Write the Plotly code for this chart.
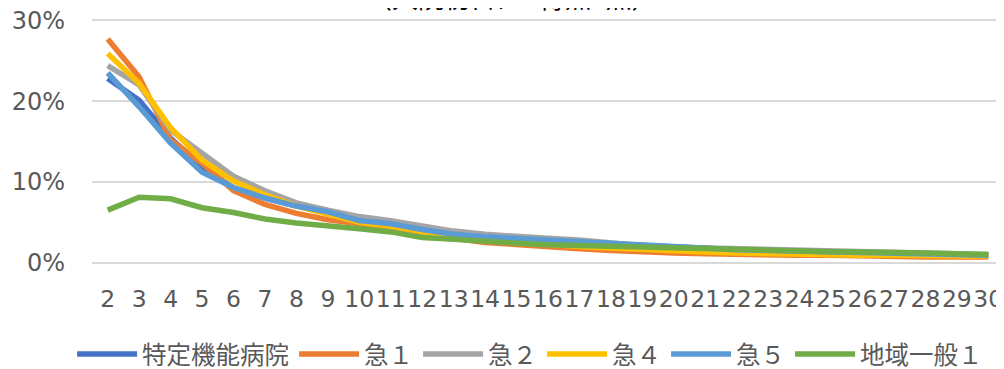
import plotly.graph_objects as go

categories = list(range(2, 31))

series_names = ["特定機能病院", "急１", "急２", "急４", "急５", "地域一般１"]

tokutei = [22.8, 20.1, 15.4, 11.9, 9.2, 8.0, 7.0, 6.3, 5.2, 4.8, 4.1, 3.5, 3.2, 2.9, 2.7,
           2.5, 2.3, 2.1, 1.9, 1.7, 1.6, 1.5, 1.4, 1.3, 1.2, 1.1, 1.0, 1.0, 0.9]
kyu1 = [27.7, 23.0, 15.2, 12.3, 8.9, 7.2, 6.1, 5.3, 4.8, 4.4, 3.8, 3.0, 2.5, 2.2, 2.0,
        1.7, 1.5, 1.3, 1.2, 1.1, 1.0, 1.0, 0.9, 0.9, 0.8, 0.8, 0.7, 0.7, 0.7]
kyu2 = [24.4, 22.0, 16.4, 13.6, 10.7, 8.9, 7.4, 6.5, 5.7, 5.2, 4.5, 3.9, 3.5, 3.2, 3.0,
        2.8, 2.4, 2.1, 1.9, 1.8, 1.7, 1.6, 1.5, 1.5, 1.4, 1.3, 1.2, 1.1, 1.0]
kyu4 = [25.9, 22.2, 16.7, 12.7, 10.1, 8.4, 7.0, 6.0, 5.0, 4.5, 3.9, 3.2, 2.8, 2.5, 2.3,
        2.0, 1.8, 1.6, 1.4, 1.3, 1.2, 1.1, 1.0, 1.0, 0.9, 0.9, 0.8, 0.8, 0.8]
kyu5 = [23.5, 19.3, 14.8, 11.2, 9.3, 8.0, 7.0, 6.3, 5.2, 4.8, 4.1, 3.5, 3.2, 3.0, 2.7,
        2.5, 2.3, 2.1, 1.9, 1.7, 1.6, 1.5, 1.4, 1.3, 1.2, 1.1, 1.0, 1.0, 0.9]
chiiki = [6.5, 8.1, 7.9, 6.8, 6.2, 5.4, 4.9, 4.6, 4.2, 3.8, 3.1, 2.9, 2.6, 2.4, 2.2,
          2.1, 2.0, 1.8, 1.7, 1.6, 1.5, 1.5, 1.4, 1.35, 1.3, 1.3, 1.2, 1.1, 1.0]

y_ticks = [0, 10, 20, 30]
y_tick_labels = ["0%", "10%", "20%", "30%"]
title_text = "（入院初日にB得点0点）"

colors = ["#4472C4", "#ED7D31", "#A5A5A5", "#FFC000", "#5B9BD5", "#70AD47"]
all_series = [tokutei, kyu1, kyu2, kyu4, kyu5, chiiki]

fig = go.Figure()
for name, vals, col in zip(series_names, all_series, colors):
    fig.add_trace(go.Scatter(
        x=categories, y=vals, name=name, mode="lines",
        line=dict(color=col, width=5.5),
    ))

# the page body has an 8px default margin, so the figure is laid out 8px up/left
fig.update_layout(
    width=1004, height=369,
    margin=dict(l=84, r=8, t=10, b=112, autoexpand=False),
    paper_bgcolor="white", plot_bgcolor="white",
    font=dict(family="Noto Sans CJK JP", color="#595959"),
    showlegend=True,
    legend=dict(orientation="h", x=0.52, xanchor="center", xref="container",
                y=0.062, yanchor="middle", yref="container",
                font=dict(size=24.5, color="#595959"),
                itemwidth=60, tracegroupgap=0),
)
fig.add_annotation(
    text=title_text, xref="paper", yref="paper", x=0.46, y=1,
    xanchor="center", yanchor="middle", yshift=22, showarrow=False,
    font=dict(size=26, color="#000000", family="Noto Sans CJK JP"),
)
fig.update_xaxes(
    range=[1.5, 30.5], tickmode="array", tickvals=categories,
    ticktext=[str(c) for c in categories], automargin=False, tickangle=0,
    showgrid=False, zeroline=False, showline=False, ticks="",
    tickfont=dict(size=23.5, color="#595959", family="DejaVu Sans"),
    ticklabelstandoff=17, ticklabeloverflow="allow",
)
fig.update_yaxes(
    range=[-0.3, 30.3], tickmode="array", tickvals=y_ticks, ticktext=y_tick_labels,
    automargin=False,
    showgrid=True, gridcolor="#D9D9D9", gridwidth=1.5,
    zeroline=False, showline=False, ticks="",
    tickfont=dict(size=24, color="#595959", family="DejaVu Sans"),
    ticklabelstandoff=26, ticklabeloverflow="allow",
)

fig.write_html("out.html")
